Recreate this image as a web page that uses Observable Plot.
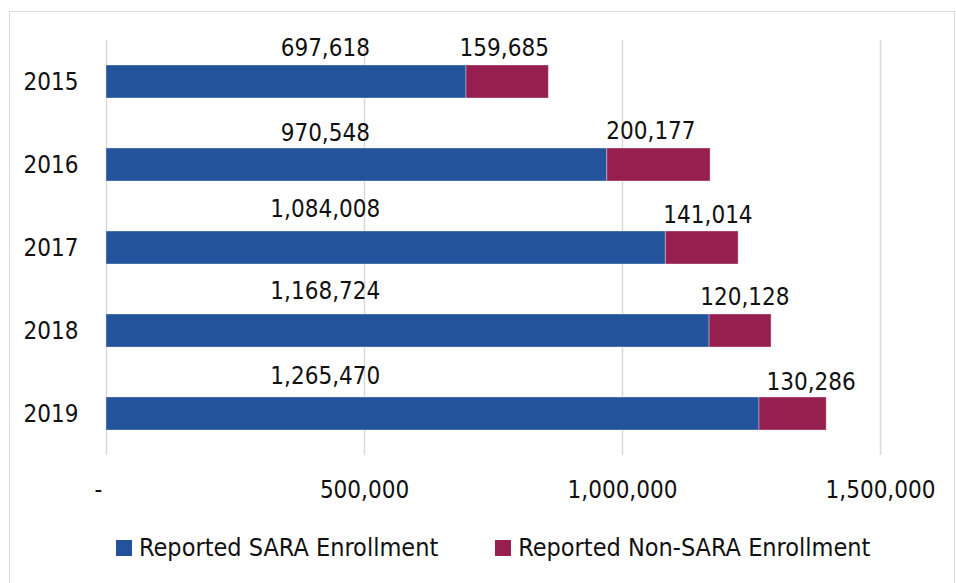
<!DOCTYPE html>
<html>
<head>
<meta charset="utf-8">
<script src="https://cdn.jsdelivr.net/npm/d3@7"></script>
<script src="https://cdn.jsdelivr.net/npm/@observablehq/plot@0.6"></script>
<style>
  body { margin: 0; background: #fff; font-family: "Liberation Sans Narrow", "DejaVu Sans Condensed", sans-serif; }
  #frame { position: absolute; left: 9px; top: 11px; width: 946px; height: 620px; border: 1.5px solid #d9d9d9; box-sizing: border-box; }
  #chart { position: absolute; left: 0; top: 0; }
  #legend { position: absolute; left: 116px; top: 533px; display: flex; align-items: center; font-size: 25px; color: #111; white-space: nowrap; }
  .item { display: flex; align-items: center; margin-right: 57px; }
  .sw { width: 16px; height: 16px; margin-right: 7px; }
</style>
</head>
<body>
<div id="frame"></div>
<div id="chart"></div>
<div id="legend"></div>
<script>
const years = ["2015", "2016", "2017", "2018", "2019"];
const saraEnrollment = [697618, 970548, 1084008, 1168724, 1265470];
const nonSaraEnrollment = [159685, 200177, 141014, 120128, 130286];
const seriesNames = ["Reported SARA Enrollment", "Reported Non-SARA Enrollment"];
const seriesColors = ["#23539a", "#961f50"];
const xTicks = [0, 500000, 1000000, 1500000];

// label layout nudges (pixels)
const saraLabelAt = 424000;
const saraLabelDy = [-10, -8, -15, -16, -14];
const nonSaraLabelDx = [0, -15, 14, 18, 29];
const nonSaraLabelDy = [-10, -10, -9, -10, -8];

const rows = [];
years.forEach((y, i) => {
  rows.push({year: y, series: seriesNames[0], value: saraEnrollment[i]});
  rows.push({year: y, series: seriesNames[1], value: nonSaraEnrollment[i]});
});
const labels = years.map((y, i) => ({year: y, i, sara: saraEnrollment[i], non: nonSaraEnrollment[i], total: saraEnrollment[i] + nonSaraEnrollment[i]}));
const fmt = d3.format(",");
const FONT = 24;
const barHalf = 16.5;

const plot = Plot.plot({
  width: 956,
  height: 520,
  marginLeft: 106,
  marginRight: 76,
  marginTop: 40,
  marginBottom: 65,
  style: {fontFamily: '"Liberation Sans Narrow", "DejaVu Sans Condensed", sans-serif', fontSize: FONT + "px", color: "#111", background: "transparent"},
  x: {domain: [0, 1500000], axis: null},
  y: {domain: years, paddingInner: 0.6, paddingOuter: 0.3, axis: null},
  color: {domain: seriesNames, range: seriesColors},
  marks: [
    Plot.gridX(xTicks, {stroke: "#d9d9d9", strokeOpacity: 1, strokeWidth: 1.5}),
    Plot.barX(rows, Plot.stackX({x: "value", y: "year", fill: "series", stroke: "#ffffff", strokeOpacity: 0.35, strokeWidth: 1, order: seriesNames})),
    Plot.axisY({tickSize: 0, tickPadding: 28, fontSize: FONT, label: null}),
    Plot.axisX([0], {tickSize: 0, tickPadding: 25, tickFormat: () => "-", dx: -8, fontSize: FONT, label: null}),
    Plot.axisX(xTicks.slice(1), {tickSize: 0, tickPadding: 25, tickFormat: fmt, fontSize: FONT, label: null}),
    ...labels.map(d => Plot.text([d], {x: () => saraLabelAt, y: "year", text: v => fmt(v.sara), lineAnchor: "bottom", dy: -barHalf + saraLabelDy[d.i], fontSize: FONT, fill: "#111"})),
    ...labels.map(d => Plot.text([d], {x: "total", y: "year", text: v => fmt(v.non), textAnchor: "end", lineAnchor: "bottom", dx: nonSaraLabelDx[d.i], dy: -barHalf + nonSaraLabelDy[d.i], fontSize: FONT, fill: "#111"}))
  ]
});
document.getElementById("chart").appendChild(plot);

const legend = document.getElementById("legend");
seriesNames.forEach((name, i) => {
  const item = document.createElement("div");
  item.className = "item";
  const sw = document.createElement("div");
  sw.className = "sw";
  sw.style.background = seriesColors[i];
  const t = document.createElement("span");
  t.textContent = name;
  item.appendChild(sw);
  item.appendChild(t);
  legend.appendChild(item);
});
</script>
</body>
</html>
